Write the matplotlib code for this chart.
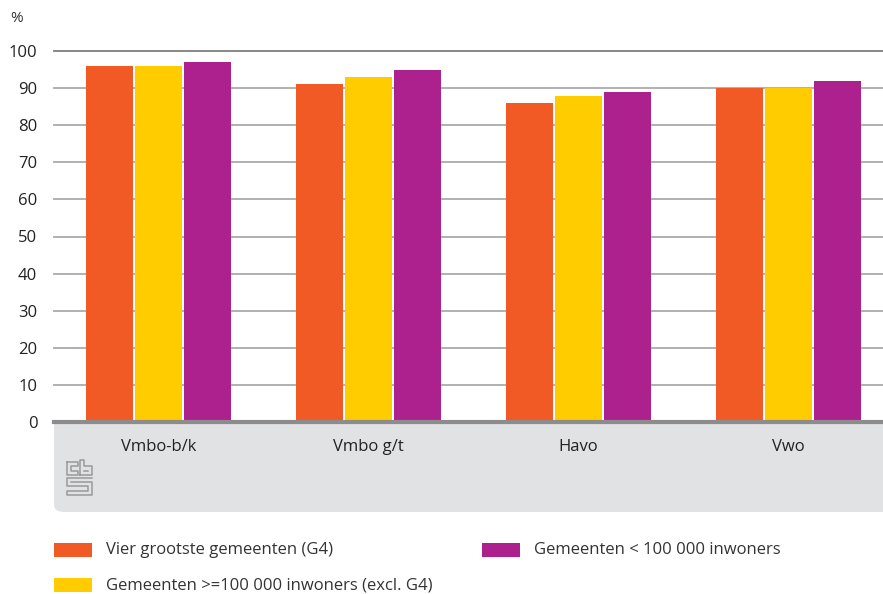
import numpy as np
import matplotlib
matplotlib.use("Agg")
import matplotlib.pyplot as plt
from matplotlib.patches import FancyBboxPatch, Rectangle

plt.rcParams['font.family'] = ['Open Sans', 'DejaVu Sans']

categories = ['Vmbo-b/k', 'Vmbo g/t', 'Havo', 'Vwo']
series_names = ['Vier grootste gemeenten (G4)',
                'Gemeenten >=100 000 inwoners (excl. G4)',
                'Gemeenten < 100 000 inwoners']
g4 = [96, 91, 86, 90]
large = [96, 93, 88, 90]
small = [97, 95, 89, 92]
colors = ['#f15a24', '#ffcc00', '#ac218e']

W, H = 883, 594
fig = plt.figure(figsize=(W / 100, H / 100), dpi=100, facecolor='white')

# grey panel under the axis with the category labels
panel = FancyBboxPatch((54 / W, (594 - 512) / H), (W - 54) / W + 0.02, (512 - 422) / H,
                       boxstyle='round,pad=0,rounding_size=0.012',
                       transform=fig.transFigure, facecolor='#e1e2e4',
                       edgecolor='none', zorder=-2)
fig.patches.append(panel)
fig.patches.append(Rectangle((54 / W, (594 - 480) / H), (W - 54) / W, 58 / H,
                             transform=fig.transFigure, facecolor='#e1e2e4',
                             edgecolor='none', zorder=-2))

ax = fig.add_axes([54 / W, (594 - 422) / H, (W - 54) / W, (422 - 51) / H])
ax.set_facecolor('none')

x = np.arange(len(categories))
step = 49 / 210
width = 47 / 210
for i, vals in enumerate([g4, large, small]):
    ax.bar(x + (i - 1) * step, vals, width=width, color=colors[i], zorder=3)

ax.set_xlim(-0.498, 3.45)
ax.set_ylim(0, 100)
yt = np.arange(0, 101, 10)
ax.set_yticks(yt)
ax.set_yticklabels([str(v) for v in yt], fontsize=12, color='#222222')
ax.tick_params(axis='y', length=0, pad=12)
ax.set_xticks([])
for s in ax.spines.values():
    s.set_visible(False)

for v in yt[1:]:
    ax.axhline(v, color='#7f7f7f' if v == 100 else '#aaaaaa', lw=1.3,
               zorder=1, clip_on=False)
ax.axhline(0, color='#8c8c8c', lw=3, zorder=4, clip_on=False)

for xi, c in zip(x, categories):
    ax.text(xi, -6.8, c, ha='center', va='center', fontsize=12, color='#222222')

fig.text(10 / W, 1 - 18 / H, '%', fontsize=11, color='#333333', va='center')

# simplified cbs logo
lg = fig.add_axes([65 / W, (594 - 498) / H, 29 / W, 39 / H])
lg.set_xlim(0, 27)
lg.set_ylim(37, 0)
lg.axis('off')
lc = '#9a9a9a'
for path in [
    [(2, 3), (2, 15), (12, 15), (12, 11), (6, 11), (6, 7), (12, 7), (12, 3), (2, 3)],
    [(14, 15), (14, 1), (18, 1), (18, 7), (25, 7), (25, 15), (14, 15)],
    [(18, 11), (21, 11)],
    [(25, 18), (2, 18), (2, 26), (21, 26), (21, 30), (2, 30), (2, 34), (25, 34), (25, 22), (6, 22)],
]:
    px, py = zip(*path)
    lg.plot(px, py, color=lc, lw=1.1)

# legend
legend_items = [(54, 550, 0), (482, 550, 2), (54, 585, 1)]
for lx, ly, idx in legend_items:
    fig.patches.append(Rectangle((lx / W, (594 - ly - 7) / H), 38 / W, 14 / H,
                                 transform=fig.transFigure, facecolor=colors[idx],
                                 edgecolor='none'))
    fig.text((lx + 52) / W, (594 - ly) / H, series_names[idx], fontsize=12,
             color='#333333', va='center')

fig.savefig('out.png', dpi=100)
